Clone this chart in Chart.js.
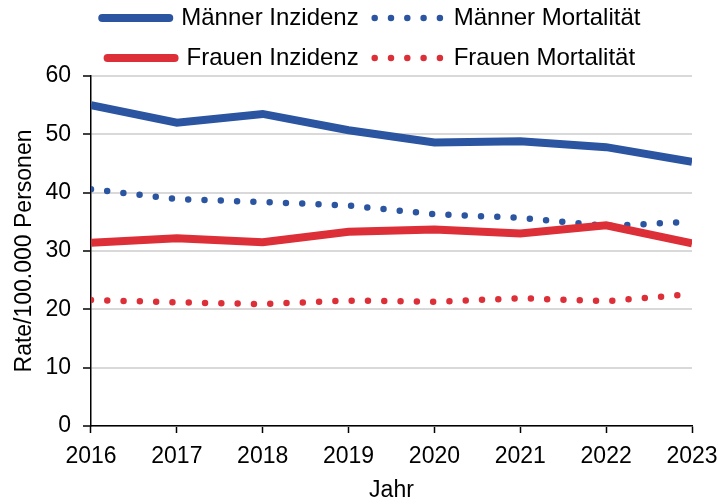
<!DOCTYPE html>
<html>
<head>
<meta charset="utf-8">
<script src="https://cdn.jsdelivr.net/npm/chart.js@4.4.1/dist/chart.umd.min.js"></script>
<style>
  html, body { margin: 0; padding: 0; background: #fff; }
</style>
</head>
<body>
<canvas id="myChart" width="718" height="504"></canvas>
<script>
  const years = ['2016', '2017', '2018', '2019', '2020', '2021', '2022', '2023'];
  const maennerInzidenz = [55.0, 52.0, 53.5, 50.7, 48.6, 48.8, 47.8, 45.3];
  const maennerMortalitaet = [40.6, 38.9, 38.4, 37.8, 36.3, 35.7, 34.3, 35.0];
  const frauenInzidenz = [31.4, 32.2, 31.5, 33.3, 33.7, 33.0, 34.4, 31.3];
  const frauenMortalitaet = [21.6, 21.2, 20.9, 21.5, 21.3, 21.9, 21.4, 22.6];
  const yTicks = [0, 10, 20, 30, 40, 50, 60];

  const blue = '#2b54a1';
  const red = '#dd2f37';
  const fontFamily = '"Liberation Sans", Arial, sans-serif';

  const solid = (label, data, color, order) => ({
    label: label,
    data: data,
    borderColor: color,
    backgroundColor: color,
    borderWidth: 8,
    borderDash: [],
    pointRadius: 0,
    pointHoverRadius: 0,
    tension: 0,
    clip: 0,
    order: order,
  });

  const dotted = (label, data, color, order) => ({
    label: label,
    data: data,
    borderColor: color,
    backgroundColor: color,
    borderWidth: 6.5,
    borderDash: [0, 16.3],
    borderCapStyle: 'round',
    pointRadius: 0,
    pointHoverRadius: 0,
    tension: 0,
    clip: 0,
    order: order,
  });

  const ctx = document.getElementById('myChart').getContext('2d');
  const myChart = new Chart(ctx, {
    type: 'line',
    data: {
      labels: years,
      datasets: [
        solid('Männer Inzidenz', maennerInzidenz, blue, 1),
        dotted('Männer Mortalität', maennerMortalitaet, blue, 1),
        solid('Frauen Inzidenz', frauenInzidenz, red, 0),
        dotted('Frauen Mortalität', frauenMortalitaet, red, 1),
      ],
    },
    options: {
      responsive: false,
      animation: false,
      layout: { padding: { top: -10, left: 24.7, right: 0, bottom: 0 } },
      plugins: {
        tooltip: { enabled: false },
        legend: {
          position: 'top',
          maxHeight: 86,
          labels: {
            usePointStyle: true,
            pointStyleWidth: 67,
            padding: 16,
            color: '#000',
            font: { family: fontFamily, size: 24 },
            generateLabels: (chart) =>
              chart.data.datasets.map((ds, i) => ({
                text: ds.label,
                fillStyle: ds.borderColor,
                strokeStyle: ds.borderColor,
                lineWidth: ds.borderWidth,
                lineDash: ds.borderDash,
                lineCap: 'round',
                pointStyle: 'line',
                fontColor: '#000',
                hidden: false,
                datasetIndex: i,
              })),
          },
        },
      },
      scales: {
        x: {
          offset: false,
          afterFit: (scale) => {
            // only half of the edge labels should stick out
            scale.paddingLeft = 26;
            scale.paddingRight = 26;
          },
          grid: {
            drawOnChartArea: false,
            drawTicks: true,
            tickLength: 7,
            tickColor: '#000',
            tickWidth: 1.5,
          },
          border: { color: '#000', width: 1.5 },
          ticks: {
            color: '#000',
            padding: 10,
            maxRotation: 0,
            font: { family: fontFamily, size: 23 },
          },
          title: {
            display: true,
            text: 'Jahr',
            color: '#000',
            padding: { top: -4.2, bottom: 0 },
            font: { family: fontFamily, size: 23 },
          },
        },
        y: {
          min: yTicks[0],
          max: yTicks[yTicks.length - 1],
          afterBuildTicks: (axis) => {
            axis.ticks = yTicks.map((v) => ({ value: v }));
          },
          grid: {
            color: '#d9d9d9',
            lineWidth: 2,
            tickLength: 8,
            tickColor: '#000',
            tickWidth: 1.5,
          },
          border: { color: '#000', width: 1.5 },
          ticks: {
            color: '#000',
            padding: 12,
            font: { family: fontFamily, size: 23 },
          },
          title: {
            display: true,
            text: 'Rate/100.000 Personen',
            color: '#000',
            padding: { top: -13.5, bottom: -5.4 },
            font: { family: fontFamily, size: 23 },
          },
        },
      },
    },
  });
</script>
</body>
</html>
